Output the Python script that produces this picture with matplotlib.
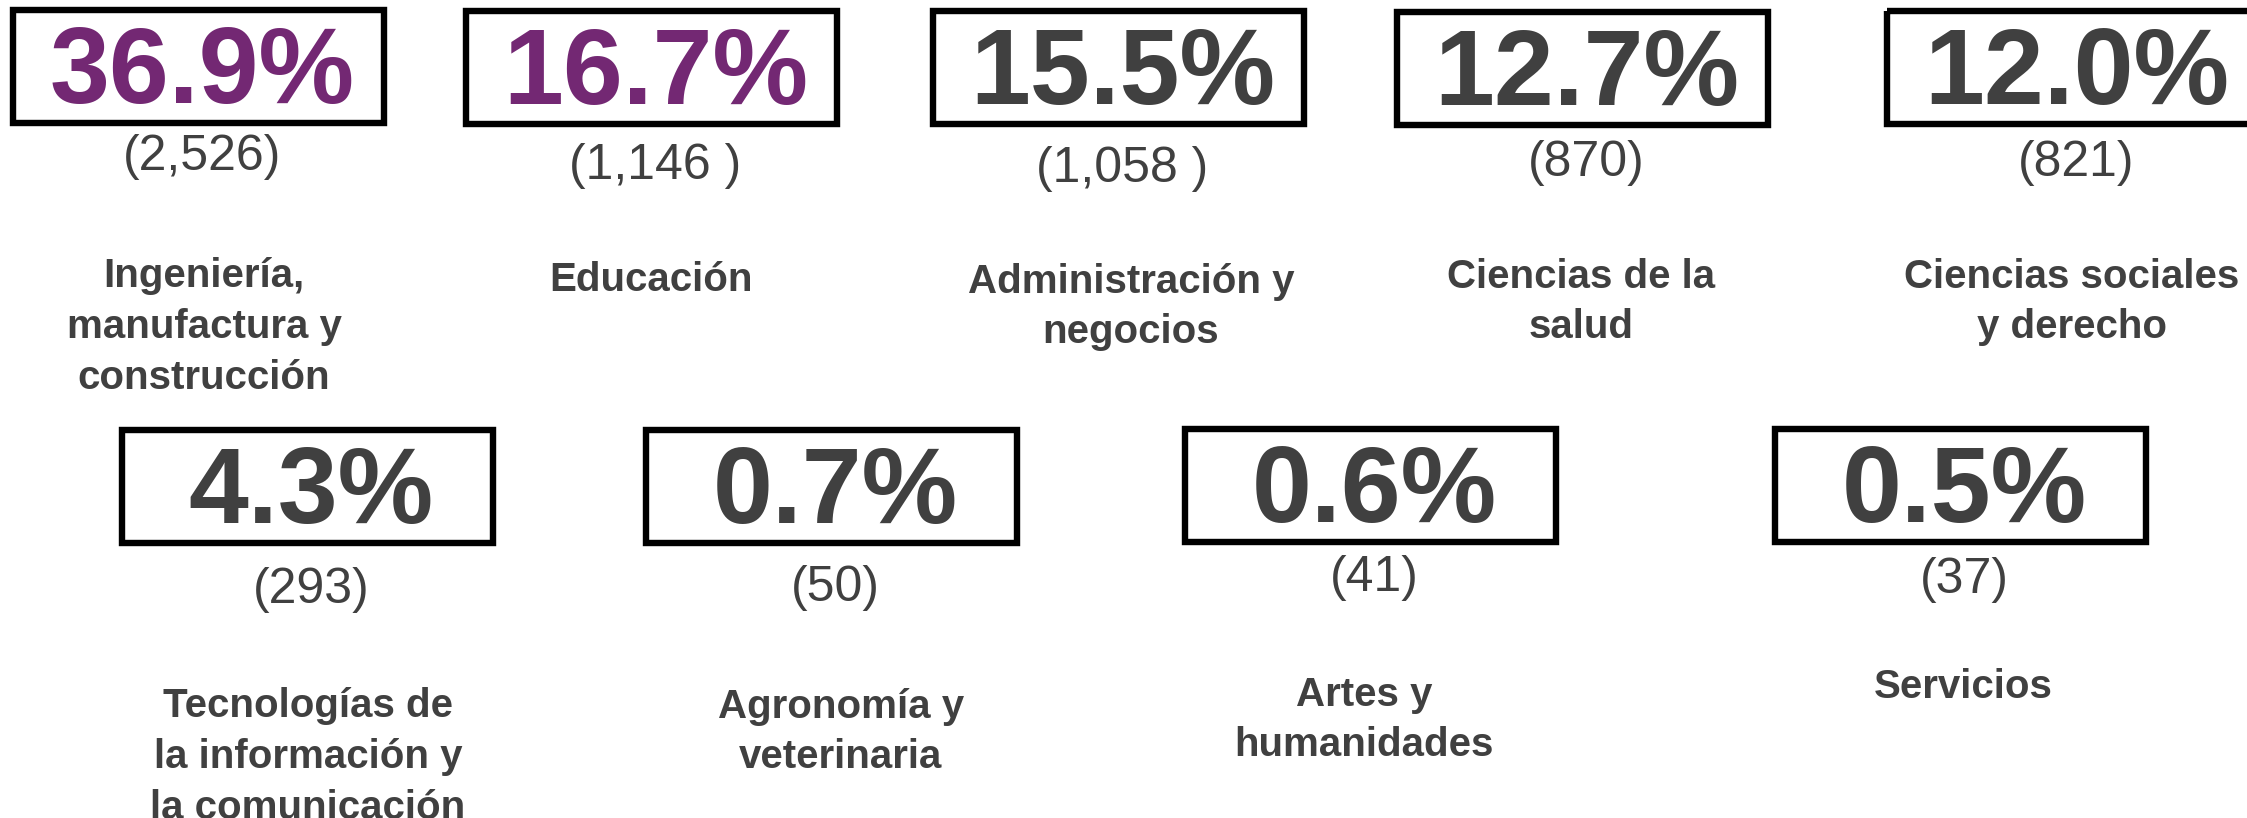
import matplotlib
matplotlib.use("Agg")
import matplotlib.pyplot as plt
from matplotlib.patches import Rectangle

# data
categorias = [
    "Ingeniería,\nmanufactura y\nconstrucción",
    "Educación",
    "Administración y\nnegocios",
    "Ciencias de la\nsalud",
    "Ciencias sociales\ny derecho",
    "Tecnologías de\nla información y\nla comunicación",
    "Agronomía y\nveterinaria",
    "Artes y\nhumanidades",
    "Servicios",
]
porcentajes = [36.9, 16.7, 15.5, 12.7, 12.0, 4.3, 0.7, 0.6, 0.5]
conteos = ["(2,526)", "(1,146 )", "(1,058 )", "(870)", "(821)", "(293)", "(50)", "(41)", "(37)"]
destacados = [True, True, False, False, False, False, False, False, False]

# layout (canvas pixels, y down)
box_x = [10, 463, 930, 1394, 1884, 119, 643, 1182, 1772]
box_y = [7, 8, 8, 9, 8, 427, 427, 426, 426]
box_w, box_h = 377, 119
label_x = [204, 651, 1131, 1581, 2072, 308, 841, 1364, 1963]
label_y = [327, 280, 307, 302, 302, 757, 732, 720, 687]
count_y = [157, 166, 169, 163, 163, 590, 588, 578, 580]

PURPLE = "#732873"
GRAY = "#404040"
FONT = "Liberation Sans"

W, H = 2247, 818
fig = plt.figure(figsize=(W / 100, H / 100), dpi=100)
ax = fig.add_axes([0, 0, 1, 1])
ax.set_xlim(0, W)
ax.set_ylim(H, 0)
ax.axis("off")

for i, cat in enumerate(categorias):
    x0, y0 = box_x[i], box_y[i]
    ax.add_patch(Rectangle((x0 + 3, y0 + 3), box_w - 6, box_h - 6, fill=False,
                           edgecolor="black", linewidth=4.6))
    cx = x0 + box_w / 2 + 4
    color = PURPLE if destacados[i] else GRAY
    ax.text(cx, y0 + 96, f"{porcentajes[i]:.1f}%", ha="center", va="baseline",
            fontsize=77.5, fontweight="bold", color=color, family=FONT)
    ax.text(cx, count_y[i], conteos[i], ha="center", va="center",
            fontsize=36, color=GRAY, family=FONT)
    ax.text(label_x[i], label_y[i], cat, ha="center", va="center",
            fontsize=29, fontweight="bold", color=GRAY, family=FONT,
            linespacing=1.42, clip_on=False)

fig.savefig("out.png", dpi=100, facecolor="white")
